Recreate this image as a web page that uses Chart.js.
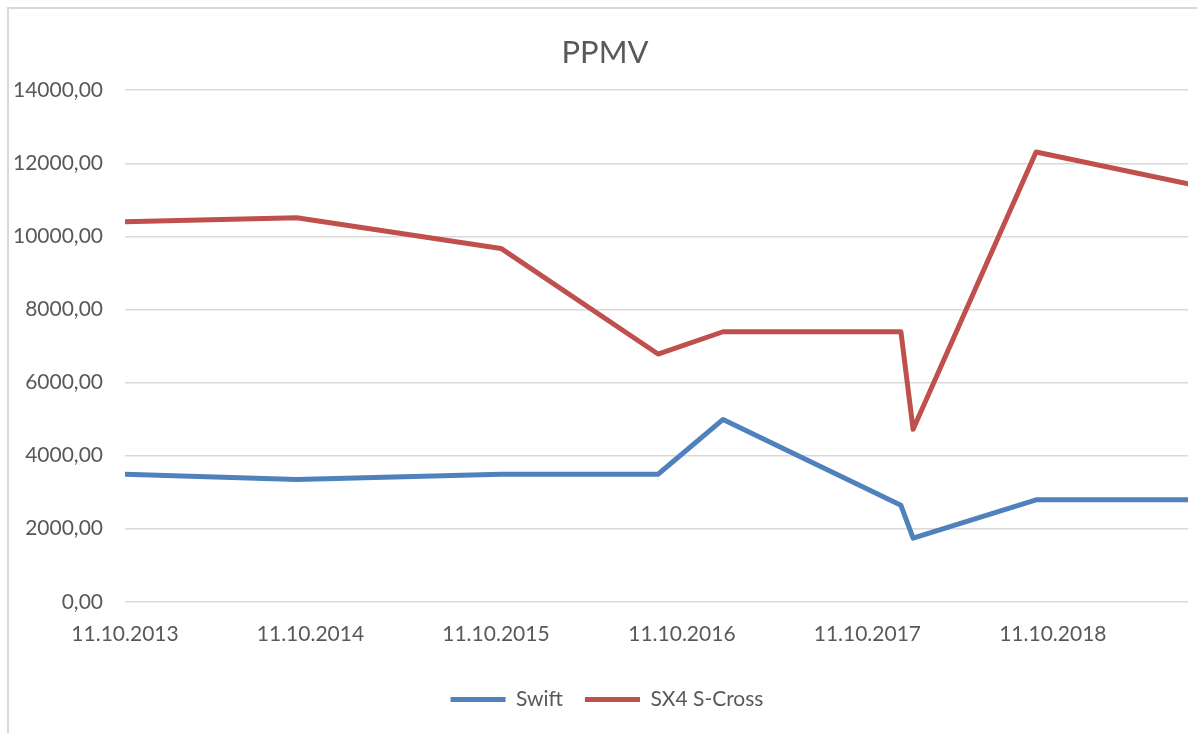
<!DOCTYPE html>
<html>
<head>
<meta charset="utf-8">
<script src="https://cdn.jsdelivr.net/npm/chart.js@4"></script>
<style>
  html, body { margin: 0; padding: 0; background: #ffffff; overflow: hidden; }
  #wrap { position: relative; width: 1197px; height: 733px; }
  #frame { position: absolute; left: 7px; top: 7px; width: 1400px; height: 900px; border: 2px solid #D9D9D9; box-sizing: border-box; }
  canvas { position: absolute; left: 0; top: 0; }
</style>
</head>
<body>
<div id="wrap">
  <div id="frame"></div>
  <canvas id="c" width="1197" height="733"></canvas>
</div>
<script>
// ---- data ----
const chartTitle = 'PPMV';
const dates = ['2013-10-11', '2014-09-14', '2015-10-21', '2016-08-25', '2016-12-31', '2017-12-16', '2018-01-09', '2018-09-08', '2019-07-04'];
const swiftValues = [3490, 3350, 3490, 3490, 4990, 2640, 1740, 2790, 2790];
const sx4Values = [10400, 10510, 9670, 6780, 7390, 7390, 4720, 12310, 11440];
const seriesNames = ['Swift', 'SX4 S-Cross'];
const xTickDates = ['2013-10-11', '2014-10-11', '2015-10-11', '2016-10-11', '2017-10-11', '2018-10-11'];
const xTickLabels = ['11.10.2013', '11.10.2014', '11.10.2015', '11.10.2016', '11.10.2017', '11.10.2018'];
const yMin = 0, yMax = 14000, yStep = 2000;

// ---- helpers ----
const origin = Date.UTC(2013, 9, 11);
function dayOffset(iso) {
  const [y, m, d] = iso.split('-').map(Number);
  return (Date.UTC(y, m - 1, d) - origin) / 86400000;
}
function toPoints(vals) { return dates.map((d, i) => ({ x: dayOffset(d), y: vals[i] })); }

const FONT = 'Lato';
const TXT = '#595959';

// nudges the legend and title a little to the right, as in the original
const blockShift = {
  id: 'blockShift',
  beforeDraw(chart) {
    if (chart.legend) { chart.legend.left += 13; chart.legend.right += 13; }
    if (chart.titleBlock) { chart.titleBlock.left += 11; chart.titleBlock.right += 11; }
  }
};

new Chart(document.getElementById('c'), {
  type: 'line',
  data: {
    datasets: [
      { label: seriesNames[0], data: toPoints(swiftValues), borderColor: '#4F81BD', backgroundColor: '#4F81BD',
        borderWidth: 5, pointRadius: 0, tension: 0, borderCapStyle: 'round', borderJoinStyle: 'round' },
      { label: seriesNames[1], data: toPoints(sx4Values), borderColor: '#C0504D', backgroundColor: '#C0504D',
        borderWidth: 5, pointRadius: 0, tension: 0, borderCapStyle: 'round', borderJoinStyle: 'round' }
    ]
  },
  plugins: [blockShift],
  options: {
    responsive: false,
    animation: false,
    layout: { padding: { left: 0, right: 9, top: 0, bottom: 13 } },
    plugins: {
      title: { display: true, text: chartTitle, color: TXT, font: { family: FONT, size: 31, weight: 'normal' }, padding: { top: 34, bottom: 19 } },
      legend: {
        position: 'bottom',
        labels: { color: TXT, font: { family: FONT, size: 21 }, usePointStyle: true, pointStyle: 'line', pointStyleWidth: 55, boxHeight: 21, padding: 22 }
      },
      tooltip: { enabled: false }
    },
    scales: {
      x: {
        type: 'linear',
        min: 0,
        max: dayOffset(dates[dates.length - 1]),
        grid: { display: false, drawTicks: false },
        border: { display: false },
        afterBuildTicks: (scale) => { scale.ticks = xTickDates.map(d => ({ value: dayOffset(d) })); },
        ticks: { autoSkip: false, maxRotation: 0, padding: 20, color: TXT, font: { family: FONT, size: 21 },
          callback: (v, i) => xTickLabels[i] }
      },
      y: {
        min: yMin, max: yMax,
        afterFit: (scale) => { scale.width = 125; },
        grid: { color: '#D9D9D9', lineWidth: 1.5, drawTicks: false },
        border: { display: false },
        ticks: { stepSize: yStep, padding: 22, color: TXT, font: { family: FONT, size: 21 },
          callback: (v) => v.toFixed(2).replace('.', ',') }
      }
    }
  }
});
</script>
</body>
</html>
